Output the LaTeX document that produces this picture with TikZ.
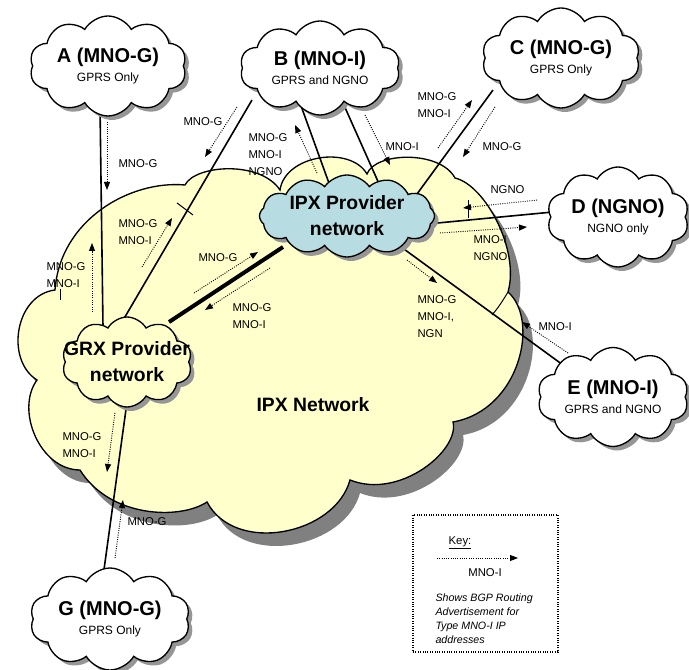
\documentclass[tikz,border=0pt]{standalone}
\usepackage{fontspec}
\setmainfont{Liberation Sans}
\usetikzlibrary{shapes.symbols,arrows.meta,calc}

\definecolor{ipxyellow}{RGB}{255,255,204}
\definecolor{ipxblue}{RGB}{183,221,226}
\definecolor{shadowc}{RGB}{128,128,128}
\definecolor{softshadowc}{RGB}{150,150,150}

\tikzset{every picture/.style={line width=0.75pt}}
\tikzset{
  site/.style={cloud, cloud puffs=10, cloud puff arc=120, draw, line width=1pt, fill=white, inner sep=0pt},
  siteshadow/.style={cloud, cloud puffs=10, cloud puff arc=120, draw=none, fill=softshadowc, inner sep=0pt},
  sitename/.style={font=\fontsize{9}{14}\selectfont, align=center, inner sep=0pt},
  provname/.style={font=\bfseries\fontsize{14.5}{19.5}\selectfont, align=center, inner sep=0pt},
  link/.style={line width=1.2pt},
  adv/.style={densely dotted, line width=0.7pt, -{Triangle[length=6pt,width=4.5pt]}},
  lbl/.style={font=\fontsize{8.5}{12.75}\selectfont, align=left, anchor=west, inner sep=0pt},
}

\begin{document}
\begin{tikzpicture}[x=0.75pt,y=0.75pt,yscale=-1,xscale=1]
\useasboundingbox (0,0) rectangle (689,670);

%Shape: IPX Network cloud shadow
\fill [shadowc] (65,303) .. controls (70,233) and (140,193) .. (195,198)
  .. controls (205,178) and (270,173) .. (290,203)
  .. controls (295,168) and (360,158) .. (377,187)
  .. controls (385,165) and (450,163) .. (465,191)
  .. controls (495,198) and (530,263) .. (518,305)
  .. controls (550,333) and (530,423) .. (463,435)
  .. controls (470,463) and (410,513) .. (360,493)
  .. controls (345,548) and (245,568) .. (217,515)
  .. controls (190,533) and (120,531) .. (90,483)
  .. controls (50,483) and (25,423) .. (47,393)
  .. controls (15,373) and (25,308) .. (65,303) -- cycle ;
%Shape: IPX Network cloud
\draw [fill=ipxyellow, line width=1pt] (55,290) .. controls (60,220) and (130,180) .. (185,185)
  .. controls (195,165) and (260,160) .. (280,190)
  .. controls (285,155) and (350,145) .. (367,174)
  .. controls (375,152) and (440,150) .. (455,178)
  .. controls (485,185) and (520,250) .. (508,292)
  .. controls (540,320) and (520,410) .. (453,422)
  .. controls (460,450) and (400,500) .. (350,480)
  .. controls (335,535) and (235,555) .. (207,502)
  .. controls (180,520) and (110,518) .. (80,470)
  .. controls (40,470) and (15,410) .. (37,380)
  .. controls (5,360) and (15,295) .. (55,290) -- cycle ;
% hidden lobe edges
\draw (177,203) -- (193,215) ;
\draw (60,289) -- (60,300) ;
\draw (468,200) -- (468,218) ;
\draw (508,292) .. controls (502,302) and (498,308) .. (492,315) ;

% cloud centres
\coordinate (ipxc) at (347,216);
\coordinate (grxc) at (127,362);
\coordinate (Ac) at (108,66);
\coordinate (Bc) at (320,68);
\coordinate (Cc) at (561,58);
\coordinate (Dc) at (618,217);
\coordinate (Ec) at (613,397);
\coordinate (Gc) at (110,619);

%Straight Lines: physical links
\draw [link] ($(Ac)+(-8,40)$) -- ($(grxc)+(-24,-35)$) ;
\draw [link] ($(Bc)+(-68,32)$) -- ($(grxc)+(-5,-40)$) ;
\draw [link] ($(Bc)+(-20,35)$) -- ($(ipxc)+(-17,-30)$) ;
\draw [link] ($(Bc)+(23,35)$) -- ($(ipxc)+(33,-30)$) ;
\draw [link] ($(Cc)+(-68,32)$) -- ($(ipxc)+(70,-22)$) ;
\draw [link] ($(Dc)+(-65,-5)$) -- ($(ipxc)+(80,8)$) ;
\draw [link] ($(Ec)+(-50,-32)$) -- ($(ipxc)+(50,28)$) ;
\draw [line width=3pt] ($(ipxc)+(-64,31)$) -- ($(grxc)+(42,-40)$) ;
\draw [link] ($(grxc)+(0,40)$) -- ($(Gc)+(-7,-42)$) ;

% Text Node
\node [provname] (ipxnet) at (313,405) {IPX Network};

%Shape: Provider clouds
\node [siteshadow, cloud puffs=12, cloud puff arc=110, minimum width=131.25pt, minimum height=61.5pt] (ipxsh) at ($(ipxc)+(4,4)$) {};
\node [site, cloud puffs=12, cloud puff arc=110, fill=ipxblue, minimum width=131.25pt, minimum height=61.5pt,
  label={[provname]center:IPX Provider\\network}] (ipx) at (ipxc) {};
\node [siteshadow, minimum width=97.5pt, minimum height=67.5pt] (grxsh) at ($(grxc)+(4,4)$) {};
\node [site, fill=ipxyellow, minimum width=97.5pt, minimum height=67.5pt,
  label={[provname]center:GRX Provider\\network}] (grx) at (grxc) {};

%Shape: Operator clouds
\node [siteshadow, minimum width=117.75pt, minimum height=75pt] (Ash) at ($(Ac)+(4,4)$) {};
\node [site, minimum width=117.75pt, minimum height=75pt,
  label={[sitename]center:{{\bfseries\fontsize{15}{14}\selectfont A (MNO-G)}\\GPRS Only}}] (A) at (Ac) {};
\node [siteshadow, minimum width=120pt, minimum height=70.5pt] (Bsh) at ($(Bc)+(4,4)$) {};
\node [site, minimum width=120pt, minimum height=70.5pt,
  label={[sitename]center:{{\bfseries\fontsize{15}{14}\selectfont B (MNO-I)}\\GPRS and NGNO}}] (B) at (Bc) {};
\node [siteshadow, minimum width=118.5pt, minimum height=75pt] (Csh) at ($(Cc)+(4,4)$) {};
\node [site, minimum width=118.5pt, minimum height=75pt,
  label={[sitename]center:{{\bfseries\fontsize{15}{14}\selectfont C (MNO-G)}\\GPRS Only}}] (C) at (Cc) {};
\node [siteshadow, minimum width=106.5pt, minimum height=75pt] (Dsh) at ($(Dc)+(4,4)$) {};
\node [site, minimum width=106.5pt, minimum height=75pt,
  label={[sitename]center:{{\bfseries\fontsize{15}{14}\selectfont D (NGNO)}\\NGNO only}}] (D) at (Dc) {};
\node [siteshadow, minimum width=113.25pt, minimum height=74.25pt] (Esh) at ($(Ec)+(4,4)$) {};
\node [site, minimum width=113.25pt, minimum height=74.25pt,
  label={[sitename]center:{{\bfseries\fontsize{15}{14}\selectfont E (MNO-I)}\\GPRS and NGNO}}] (E) at (Ec) {};
\node [siteshadow, minimum width=120pt, minimum height=76.5pt] (Gsh) at ($(Gc)+(4,4)$) {};
\node [site, minimum width=120pt, minimum height=76.5pt,
  label={[sitename]center:{{\bfseries\fontsize{15}{14}\selectfont G (MNO-G)}\\GPRS Only}}] (G) at (Gc) {};

%Dotted arrows: routing advertisements
\draw [adv] (107,122) -- (107,190) ;
\draw [adv] (237,107) -- (205,157) ;
\draw [adv] (317,173) -- (295,125) ;
\draw [adv] (365,115) -- (390,165) ;
\draw [adv] (438,148) -- (472,100) ;
\draw [adv] (495,107) -- (463,157) ;
\draw [adv] (537,200) -- (463,208) ;
\draw [adv] (440,233) -- (527,227) ;
\draw [adv] (407,260) -- (437,283) ;
\draw [adv] (568,353) -- (522,322) ;
\draw [adv] (194,293) -- (258,252) ;
\draw [adv] (270,268) -- (205,310) ;
\draw [adv] (142,267) -- (172,218) ;
\draw [adv] (92,312) -- (92,243) ;
\draw [adv] (115,413) -- (107,472) ;
\draw [adv] (115,558) -- (123,500) ;

% Text Node
\node [lbl] (t1) at (118,164) {MNO-G};
\node [lbl] (t2) at (183,122) {MNO-G};
\node [lbl] (t3) at (248,155) {MNO-G\\MNO-I\\NGNO};
\node [lbl] (t4) at (385,147) {MNO-I};
\node [lbl] (t5) at (417,105) {MNO-G\\MNO-I};
\node [lbl] (t6) at (482,147) {MNO-G};
\node [lbl] (t7) at (490,190) {NGNO};
\node [lbl] (t8) at (473,248) {MNO-I\\NGNO};
\node [lbl] (t9) at (417,317) {MNO-G\\MNO-I,\\NGN};
\node [lbl] (t10) at (538,327) {MNO-I};
\node [lbl] (t11) at (198,258) {MNO-G};
\node [lbl] (t12) at (232,316) {MNO-G\\MNO-I};
\node [lbl] (t13) at (118,232) {MNO-G\\MNO-I};
\node [lbl] (t14) at (46,275) {MNO-G\\MNO-I};
\node [lbl] (t15) at (62,445) {MNO-G\\MNO-I};
\node [lbl] (t16) at (127,522) {MNO-G};

%Shape: Key
\node [draw, densely dotted, line width=0.8pt, minimum width=108.75pt, minimum height=102.75pt] (key) at (485.5,583.5) {};
\node [lbl, anchor=center] (keyttl) at (460,543) {\underline{Key:}};
\draw [adv] (437,558) -- (518,558) ;
\node [lbl, anchor=center] (keyname) at (485,573) {MNO-I};
\node [anchor=north west, inner sep=0pt, align=left, font=\itshape\fontsize{8}{10.5}\selectfont] (keytext) at (435,593)
  {Shows BGP Routing\\Advertisement for\\Type MNO-I IP\\addresses};

\end{tikzpicture}
\end{document}
